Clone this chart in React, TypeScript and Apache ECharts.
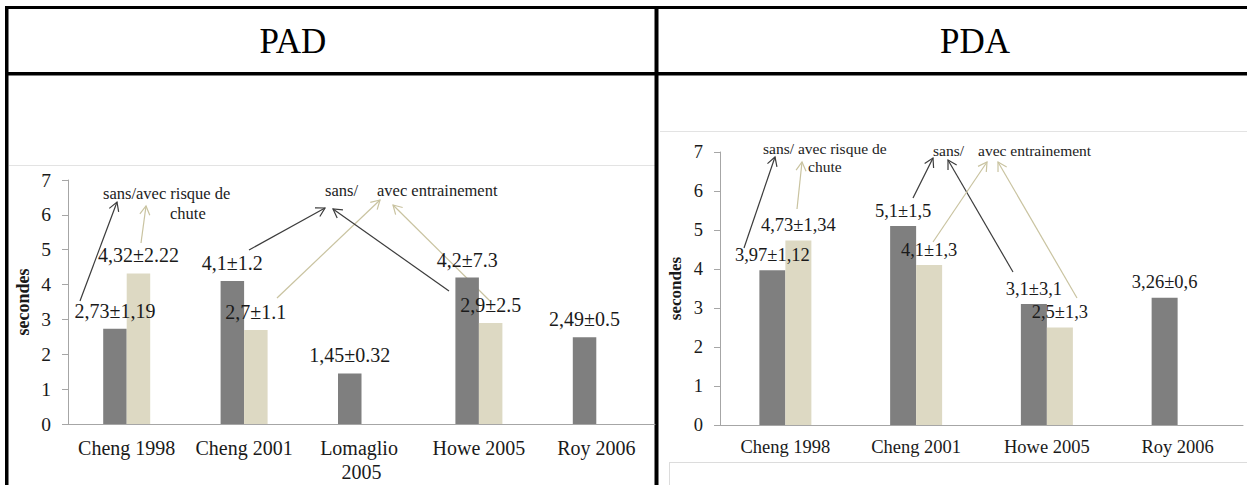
import React, { useEffect, useRef } from "react";
import * as echarts from "echarts";

// ---------- DATA ----------
const padCategories = ["Cheng 1998", "Cheng 2001", "Lomaglio 2005", "Howe 2005", "Roy 2006"];
const padSans = [2.73, 4.1, 1.45, 4.2, 2.49];
const padAvec = [4.32, 2.7, null, 2.9, null];
const padSansLabels = ["2,73±1,19", "4,1±1.2", "1,45±0.32", "4,2±7.3", "2,49±0.5"];
const padAvecLabels = ["4,32±2.22", "2,7±1.1", "", "2,9±2.5", ""];

const pdaCategories = ["Cheng 1998", "Cheng 2001", "Howe 2005", "Roy 2006"];
const pdaSans = [3.97, 5.1, 3.1, 3.26];
const pdaAvec = [4.73, 4.1, 2.5, null];
const pdaSansLabels = ["3,97±1,12", "5,1±1,5", "3,1±3,1", "3,26±0,6"];
const pdaAvecLabels = ["4,73±1,34", "4,1±1,3", "2,5±1,3", ""];

const panelTitles = ["PAD", "PDA"];
const yAxisTitle = "secondes";
const yMin = 0;
const yMax = 7;
const yStep = 1;

// ---------- STYLE ----------
const SERIF = '"Liberation Serif", "Times New Roman", serif';
const DARK = "#7f7f7f";
const LIGHT = "#ddd9c3";
const ARROW_DARK = "#3c3c3c";
const ARROW_LIGHT = "#c9c3a0";
const AXIS = "#a6a6a6";
const TEXT = "#1a1a1a";

function arrow(x1: number, y1: number, x2: number, y2: number, color: string) {
  const ang = Math.atan2(y2 - y1, x2 - x1);
  const L = 10;
  const a = Math.PI / 6;
  const p1 = [x2 - L * Math.cos(ang - a), y2 - L * Math.sin(ang - a)];
  const p2 = [x2 - L * Math.cos(ang + a), y2 - L * Math.sin(ang + a)];
  return [
    { type: "line", silent: true, shape: { x1, y1, x2, y2 }, style: { stroke: color, lineWidth: 1.2 } },
    { type: "polyline", silent: true, shape: { points: [p1, [x2, y2], p2] }, style: { stroke: color, fill: null, lineWidth: 1.2 } },
  ];
}

function note(x: number, y: number, text: string, size: number) {
  return {
    type: "text",
    silent: true,
    x,
    y,
    style: { text, fontFamily: SERIF, fontSize: size, fill: "#222", align: "left", verticalAlign: "middle" },
  };
}

function rect(x: number, y: number, w: number, h: number, fill: string) {
  return { type: "rect", silent: true, shape: { x, y, width: w, height: h }, style: { fill } };
}

function hline(x1: number, x2: number, y: number, color: string) {
  return { type: "line", silent: true, shape: { x1, y1: y, x2, y2: y }, style: { stroke: color, lineWidth: 1 } };
}
function vline(x: number, y1: number, y2: number, color: string) {
  return { type: "line", silent: true, shape: { x1: x, y1, x2: x, y2 }, style: { stroke: color, lineWidth: 1 } };
}

function xAxisCfg(gridIndex: number, data: string[], fontSize: number, margin: number, lh: number) {
  return {
    type: "category",
    gridIndex,
    data,
    axisLine: { show: true, lineStyle: { color: AXIS, width: 1 } },
    axisTick: { show: false },
    axisLabel: {
      interval: 0,
      fontFamily: SERIF,
      fontSize,
      color: TEXT,
      margin,
      width: 112,
      overflow: "break",
      lineHeight: lh,
    },
  };
}

function yAxisCfg(gridIndex: number, fontSize: number, nameSize: number, nameGap: number) {
  return {
    type: "value",
    gridIndex,
    min: yMin,
    max: yMax,
    interval: yStep,
    name: yAxisTitle,
    nameLocation: "middle",
    nameGap,
    nameTextStyle: { fontFamily: SERIF, fontWeight: "bold", fontSize: nameSize, color: TEXT },
    axisLine: { show: true, lineStyle: { color: AXIS, width: 1 } },
    axisTick: { show: true, length: 6, lineStyle: { color: AXIS } },
    splitLine: { show: false },
    axisLabel: { fontFamily: SERIF, fontSize, color: TEXT, margin: 17 },
  };
}

function barSeries(
  name: string,
  axisIndex: number,
  data: (number | null)[],
  labels: string[],
  color: string,
  width: number,
  fontSize: number,
  distance: number
) {
  return {
    type: "bar",
    name,
    xAxisIndex: axisIndex,
    yAxisIndex: axisIndex,
    data,
    barWidth: width,
    barGap: "0%",
    itemStyle: { color },
    label: {
      show: true,
      position: "top",
      distance,
      fontFamily: SERIF,
      fontSize,
      color: TEXT,
      formatter: (p: any) => labels[p.dataIndex] || "",
    },
  };
}

export default function App() {
  const ref = useRef<HTMLDivElement>(null);

  useEffect(() => {
    document.body.style.margin = "0";
    if (!ref.current) return;
    const chart = echarts.init(ref.current, null, { renderer: "svg" });

    const graphic: any[] = [
      // chart area borders (light gray)
      hline(9, 655, 165.5, "#e3e3e3"),
      hline(660, 1247, 131.5, "#e3e3e3"),
      hline(669, 1247, 462.5, "#dcdcdc"),
      vline(669.5, 462, 485, "#dcdcdc"),
      // table borders
      rect(5, 6, 1242, 3, "#000"),
      rect(5, 72, 1242, 3.5, "#000"),
      rect(5, 6, 3.5, 479, "#000"),
      rect(654.5, 6, 4, 479, "#000"),
      // panel titles
      {
        type: "text",
        silent: true,
        x: 293,
        y: 41,
        style: { text: panelTitles[0], fontFamily: SERIF, fontSize: 35, fill: "#000", align: "center", verticalAlign: "middle" },
      },
      {
        type: "text",
        silent: true,
        x: 975,
        y: 41,
        style: { text: panelTitles[1], fontFamily: SERIF, fontSize: 35, fill: "#000", align: "center", verticalAlign: "middle" },
      },
      // annotations PAD
      note(103, 193, "sans/avec risque de", 16.5),
      note(170, 213, "chute", 16.5),
      note(325, 190, "sans/", 16.5),
      note(377, 190, "avec entrainement", 16.5),
      // annotations PDA
      note(763, 148, "sans/ avec risque de", 15.5),
      note(808, 166, "chute", 15.5),
      note(933, 150, "sans/", 15.5),
      note(978, 150, "avec entrainement", 15.5),
      // arrows PAD
      ...arrow(80, 301, 117, 202, ARROW_DARK),
      ...arrow(141, 243, 146, 206, ARROW_LIGHT),
      ...arrow(249, 250, 325, 208, ARROW_DARK),
      ...arrow(277, 298, 380, 200, ARROW_LIGHT),
      ...arrow(449, 291, 333, 209, ARROW_DARK),
      ...arrow(491, 302, 393, 205, ARROW_LIGHT),
      // arrows PDA
      ...arrow(744, 248, 775, 157, ARROW_DARK),
      ...arrow(797, 209, 802, 162, ARROW_LIGHT),
      ...arrow(913, 198, 933, 158, ARROW_DARK),
      ...arrow(1013, 272, 948, 160, ARROW_DARK),
      ...arrow(933, 242, 987, 162, ARROW_LIGHT),
      ...arrow(1077, 298, 998, 162, ARROW_LIGHT),
    ];

    chart.setOption({
      animation: false,
      backgroundColor: "#ffffff",
      grid: [
        { left: 68, top: 180, width: 587, height: 244, containLabel: false },
        { left: 720, top: 152, width: 523, height: 273, containLabel: false },
      ],
      xAxis: [xAxisCfg(0, padCategories, 20, 12, 24), xAxisCfg(1, pdaCategories, 18.5, 11, 22)],
      yAxis: [yAxisCfg(0, 19.5, 18, 36), yAxisCfg(1, 18.5, 17, 36)],
      series: [
        barSeries("PAD sans", 0, padSans, padSansLabels, DARK, 23.5, 20, 8),
        barSeries("PAD avec", 0, padAvec, padAvecLabels, LIGHT, 23.5, 20, 8),
        barSeries("PDA sans", 1, pdaSans, pdaSansLabels, DARK, 26, 18.5, 6),
        barSeries("PDA avec", 1, pdaAvec, pdaAvecLabels, LIGHT, 26, 18.5, 6),
      ],
      graphic,
    });

    return () => chart.dispose();
  }, []);

  return (
    <div
      ref={ref}
      style={{ position: "fixed", left: 0, top: 0, width: 1247, height: 485, background: "#fff" }}
    />
  );
}
